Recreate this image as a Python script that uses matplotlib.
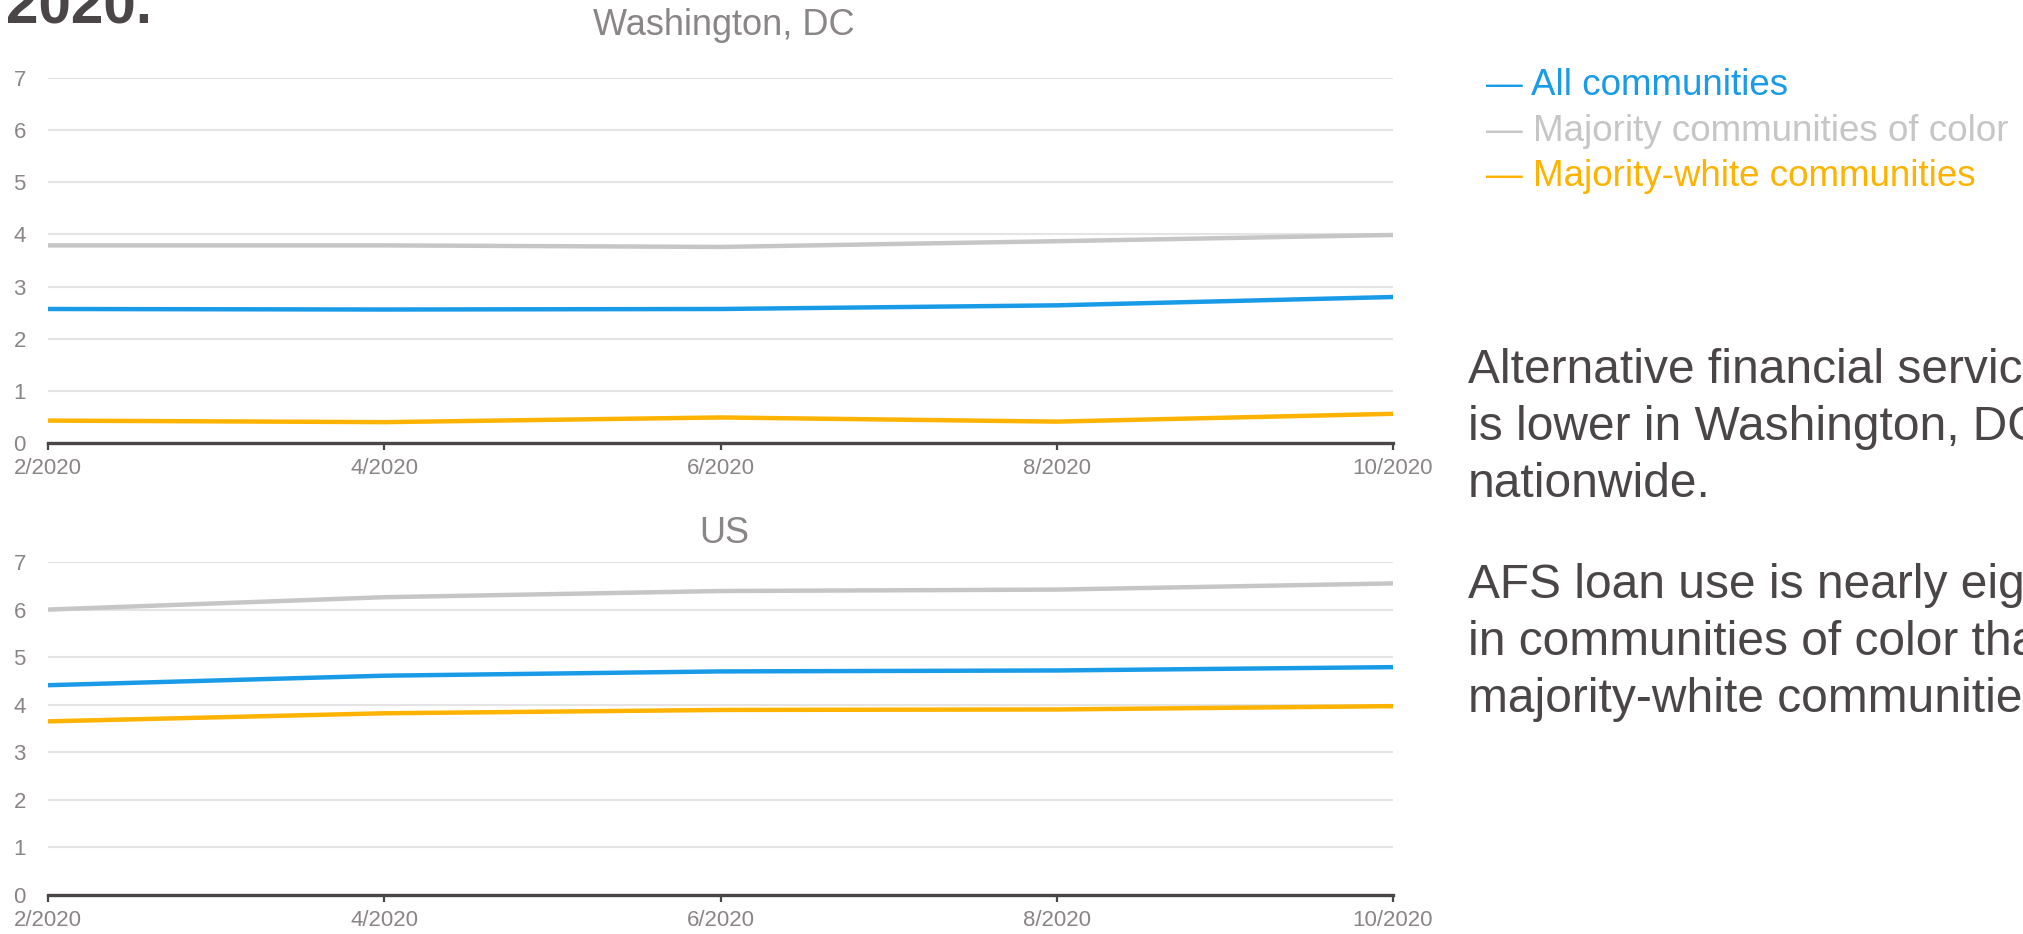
import matplotlib
matplotlib.use("Agg")
import matplotlib.pyplot as plt

plt.rcParams['font.family'] = ['Liberation Sans', 'DejaVu Sans']

# data (AFS loan use, %)
months = ["2/2020", "4/2020", "6/2020", "8/2020", "10/2020"]
series_names = ["All communities", "Majority communities of color", "Majority-white communities"]
dc_all = [2.57, 2.56, 2.57, 2.64, 2.80]
dc_color = [3.79, 3.79, 3.76, 3.87, 3.99]
dc_white = [0.43, 0.40, 0.49, 0.41, 0.56]
us_all = [4.41, 4.61, 4.70, 4.72, 4.79]
us_color = [6.00, 6.26, 6.39, 6.42, 6.55]
us_white = [3.65, 3.82, 3.89, 3.90, 3.97]
yticks = [0, 1, 2, 3, 4, 5, 6, 7]

BLUE = '#1a9be8'
GRAY = '#c6c6c6'
ORANGE = '#fdb300'
DARK = '#4a4546'
TICK = '#8a8586'

W, H = 2023, 934
fig = plt.figure(figsize=(W / 100, H / 100), dpi=100)


def fx(px):
    return px / W


def fy(py):
    return 1 - py / H


def panel(rect, title, title_y, all_v, color_v, white_v):
    ax = fig.add_axes(rect)
    x = range(len(months))
    ax.plot(x, color_v, color=GRAY, lw=3.2, solid_capstyle='butt')
    ax.plot(x, all_v, color=BLUE, lw=3.2, solid_capstyle='butt')
    ax.plot(x, white_v, color=ORANGE, lw=3.2, solid_capstyle='butt')
    ax.set_xlim(0, len(months) - 1)
    ax.set_ylim(0, 7)
    ax.set_xticks(list(x))
    ax.set_xticklabels(months)
    ax.set_yticks(yticks)
    ax.yaxis.grid(True, color='#e4e4e4', lw=1.5)
    ax.set_axisbelow(True)
    for s in ['top', 'right', 'left']:
        ax.spines[s].set_visible(False)
    ax.spines['bottom'].set_color(DARK)
    ax.spines['bottom'].set_linewidth(2.4)
    ax.tick_params(axis='x', length=5, width=1.6, color=DARK, labelsize=16,
                   labelcolor=TICK, pad=6)
    ax.tick_params(axis='y', length=0, labelsize=16, labelcolor=TICK, pad=16)
    fig.text(fx(724), fy(title_y), title, fontsize=26, color=TICK,
             ha='center', va='baseline')
    return ax


# axes rectangles from pixel positions in the reference
panel([fx(48), fy(443), fx(1393 - 48), (443 - 78) / H], "Washington, DC", 35,
      dc_all, dc_color, dc_white)
panel([fx(48), fy(895), fx(1393 - 48), (895 - 562) / H], "US", 543,
      us_all, us_color, us_white)

# cropped headline
fig.text(fx(6), fy(23), "2020.", fontsize=42, fontweight='bold', color=DARK,
         ha='left', va='baseline')

# legend as coloured text
for name, col, yb in zip(series_names, [BLUE, GRAY, ORANGE], [95, 141, 186]):
    fig.text(fx(1486), fy(yb), "\u2014 " + name, fontsize=26.5, color=col,
             ha='left', va='baseline')

# annotation text (runs off the right edge like the reference)
notes = [
    ("Alternative financial services use", 383),
    ("is lower in Washington, DC than", 440),
    ("nationwide.", 497),
    ("AFS loan use is nearly eight times higher", 598),
    ("in communities of color than in", 655),
    ("majority-white communities.", 712),
]
for line, yb in notes:
    fig.text(fx(1468), fy(yb), line, fontsize=34.5, color=DARK,
             ha='left', va='baseline')

fig.savefig("out.png", dpi=100)
